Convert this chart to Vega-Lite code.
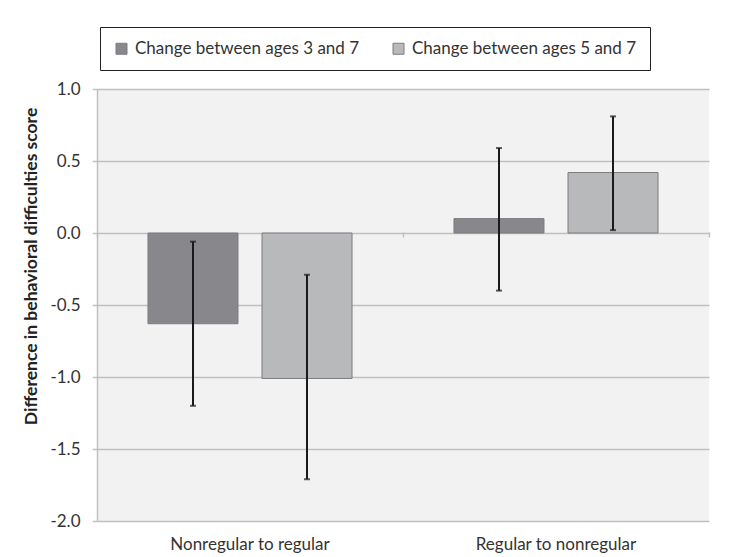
{
  "$schema": "https://vega.github.io/schema/vega-lite/v6.json",
  "autosize": "none",
  "width": 612,
  "height": 432,
  "padding": {"left": 97, "top": 89, "right": 21, "bottom": 36},
  "background": "white",
  "config": {
    "font": "Lato",
    "view": {"fill": "#f2f2f2", "stroke": null}
  },
  "data": {
    "values": [
      {"group": "Nonregular to regular", "series": "Change between ages 3 and 7", "value": -0.63, "lo": -1.20, "hi": -0.06},
      {"group": "Nonregular to regular", "series": "Change between ages 5 and 7", "value": -1.01, "lo": -1.71, "hi": -0.29},
      {"group": "Regular to nonregular", "series": "Change between ages 3 and 7", "value": 0.10, "lo": -0.40, "hi": 0.59},
      {"group": "Regular to nonregular", "series": "Change between ages 5 and 7", "value": 0.42, "lo": 0.02, "hi": 0.81}
    ]
  },
  "encoding": {
    "xOffset": {
      "field": "series", "type": "nominal", "sort": null,
      "scale": {"paddingInner": 0.2105, "paddingOuter": 0.447}
    }
  },
  "resolve": {"axis": {"x": "independent"}},
  "layer": [
    {
      "mark": {"type": "bar", "stroke": "#7d7d80", "strokeWidth": 1},
      "encoding": {
        "x": {
          "field": "group", "type": "nominal", "sort": null,
          "scale": {"paddingInner": 0, "paddingOuter": 0},
          "axis": {
            "orient": "bottom",
            "title": null, "labelAngle": 0, "domain": false, "ticks": false,
            "labelFontSize": 17, "labelColor": "#333333", "labelPadding": 15, "grid": false
          }
        },
        "y": {
          "field": "value", "type": "quantitative",
          "scale": {"domain": [-2, 1], "nice": false, "zero": false},
          "axis": {
            "title": "Difference in behavioral difficulties score",
            "titleFontSize": 17.5, "titleFontWeight": "bold", "titleColor": "#222222", "titlePadding": 9,
            "titleY": 177,
            "values": [-2, -1.5, -1, -0.5, 0, 0.5, 1],
            "labelExpr": "replace(format(datum.value, '.1f'), '\u2212', '-')",
            "labelFontSize": 17, "labelColor": "#333333", "labelPadding": 12,
            "tickColor": "#c0c0c0", "tickSize": 5, "tickWidth": 1.5,
            "domainColor": "#c0c0c0", "domainWidth": 1.5,
            "gridColor": "#c0c0c0", "gridWidth": 1.5
          }
        },
        "fill": {
          "field": "series", "type": "nominal", "sort": null,
          "scale": {"range": ["#88888c", "#b8b9bb"]},
          "legend": {
            "title": null, "orient": "none", "direction": "horizontal",
            "legendX": 3, "legendY": -62,
            "fillColor": "white", "strokeColor": "#222222",
            "padding": 13, "symbolType": "square", "symbolSize": 121,
            "symbolStrokeColor": "#7d7d80", "symbolStrokeWidth": 1,
            "labelFontSize": 17, "labelColor": "#333333", "labelOffset": 5,
            "columnPadding": 30, "labelLimit": 400
          }
        }
      }
    },
    {
      "mark": {"type": "rule", "color": "#1a1a1a", "strokeWidth": 2},
      "encoding": {
        "x": {
          "field": "group", "type": "nominal", "sort": null,
          "axis": {
            "orient": "bottom", "offset": -289,
            "title": null, "labels": false, "domain": false, "grid": false,
            "ticks": true, "tickBand": "extent", "tickColor": "#c0c0c0", "tickSize": 5, "tickWidth": 1.5
          }
        },
        "y": {"field": "lo", "type": "quantitative"},
        "y2": {"field": "hi"}
      }
    },
    {
      "mark": {"type": "tick", "color": "#1a1a1a", "thickness": 2, "size": 6},
      "encoding": {
        "x": {"field": "group", "type": "nominal", "sort": null, "axis": null},
        "y": {"field": "lo", "type": "quantitative"}
      }
    },
    {
      "mark": {"type": "tick", "color": "#1a1a1a", "thickness": 2, "size": 6},
      "encoding": {
        "x": {"field": "group", "type": "nominal", "sort": null, "axis": null},
        "y": {"field": "hi", "type": "quantitative"}
      }
    }
  ]
}
